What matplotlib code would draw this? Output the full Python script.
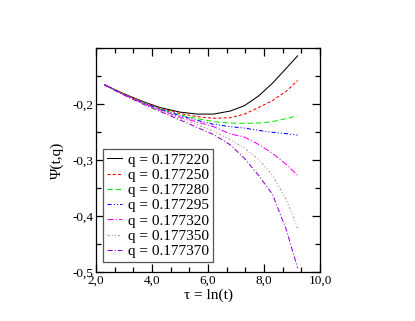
import matplotlib
matplotlib.use('Agg')
import matplotlib.pyplot as plt
from matplotlib.ticker import MultipleLocator, FuncFormatter

plt.rcParams['font.family'] = ['Liberation Serif', 'DejaVu Serif']

tau = [2.3, 2.7, 3.2, 3.7, 4.3, 5.0, 5.6, 6.2, 6.8, 7.3, 7.8, 8.3, 8.8, 9.2]

psi_220 = [-0.1655, -0.175, -0.186, -0.196, -0.2065, -0.2145, -0.218, -0.218, -0.2125, -0.203, -0.186, -0.163, -0.136, -0.114]
psi_250 = [-0.1655, -0.1752, -0.1865, -0.1965, -0.2075, -0.217, -0.2225, -0.2255, -0.2245, -0.218, -0.2065, -0.194, -0.177, -0.158]
psi_280 = [-0.1655, -0.1755, -0.187, -0.1975, -0.209, -0.2195, -0.226, -0.2315, -0.234, -0.2345, -0.234, -0.2315, -0.226, -0.221]
psi_295 = [-0.1655, -0.1757, -0.1875, -0.198, -0.2095, -0.221, -0.229, -0.2363, -0.2405, -0.243, -0.247, -0.2505, -0.253, -0.2555]
psi_320 = [-0.1655, -0.176, -0.188, -0.199, -0.211, -0.2235, -0.232, -0.2405, -0.2535, -0.259, -0.272, -0.288, -0.308, -0.3275]
psi_350 = [-0.1655, -0.176, -0.1885, -0.2, -0.2125, -0.2255, -0.2365, -0.2485, -0.264, -0.278, -0.299, -0.327, -0.371, -0.422]
psi_370 = [-0.1655, -0.1765, -0.189, -0.2005, -0.2135, -0.2285, -0.2415, -0.2545, -0.273, -0.297, -0.327, -0.361, -0.425, -0.493]

labels = ['q = 0.177220', 'q = 0.177250', 'q = 0.177280', 'q = 0.177295',
          'q = 0.177320', 'q = 0.177350', 'q = 0.177370']
series = [psi_220, psi_250, psi_280, psi_295, psi_320, psi_350, psi_370]
colors = ['black', '#ff0000', '#00ee00', '#0000ff', '#ff00ff', '#bc8f8f', '#9400d3']
styles = ['-', (0, (3, 2)), (0, (5, 3)), (0, (4, 2, 1, 2, 1, 2)),
          (0, (6, 2, 1, 2)), (0, (2, 2, 1, 2, 1, 2)), (0, (5, 2, 1, 2))]

fig = plt.figure(figsize=(4.15, 3.21), dpi=100)
ax = fig.add_axes([96 / 415, 49 / 321, 224 / 415, 224 / 321])

for y, lab, c, ls in zip(series, labels, colors, styles):
    ax.plot(tau, y, color=c, linestyle=ls, linewidth=0.75, label=lab)

ax.set_xlim(2, 10)
ax.set_ylim(-0.5, -0.1)
ax.set_xticks([2, 4, 6, 8, 10])
ax.xaxis.set_minor_locator(MultipleLocator(2 / 3))
ax.set_yticks([-0.5, -0.4, -0.3, -0.2])
ax.yaxis.set_minor_locator(MultipleLocator(0.05))

fmt = FuncFormatter(lambda v, p: ('%.1f' % v).replace('.', ','))
ax.xaxis.set_major_formatter(fmt)
ax.yaxis.set_major_formatter(fmt)

ax.tick_params(which='both', direction='in', top=True, right=True, labelsize=9.5, width=0.9, pad=2)
ax.tick_params(which='major', length=6)
ax.tick_params(which='minor', length=3.5)
for s in ax.spines.values():
    s.set_linewidth(0.9)

ax.set_xlabel('τ = ln(t)', fontsize=11, labelpad=1)
ax.set_ylabel('Ψ(t,q)', fontsize=11, labelpad=6)

leg = ax.legend(loc='lower left', bbox_to_anchor=(0.03, 0.045), borderaxespad=0,
                fontsize=11, fancybox=False, framealpha=1, edgecolor='#555555',
                handlelength=1.0, handletextpad=0.4, labelspacing=0.1, borderpad=0.25)
leg.get_frame().set_linewidth(0.9)

fig.savefig('out.png', dpi=100)
